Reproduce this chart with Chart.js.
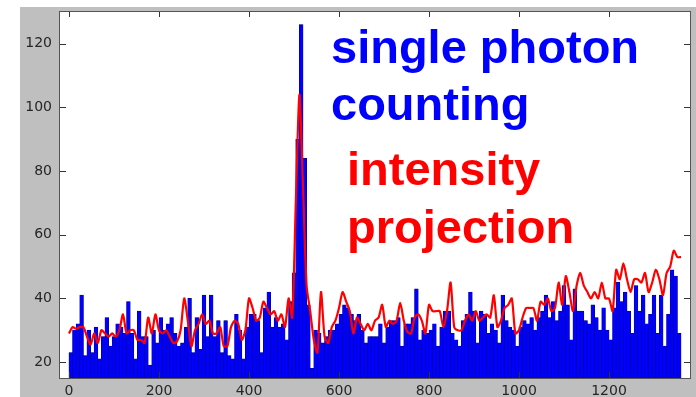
<!DOCTYPE html>
<html><head><meta charset="utf-8">
<script src="https://cdn.jsdelivr.net/npm/chart.js@4/dist/chart.umd.min.js"></script>
<style>html,body{margin:0;padding:0;background:#fff;}canvas{display:block;}</style>
</head><body>
<canvas id="c" width="696" height="397"></canvas>
<script>
// ---- data ----
const binWidth = 8;
const photonCounts = [
  23,30,32,41,22,30,23,31,21,28,34,25,28,32,31,29,39,29,21,36,28,28,19,30,26,
  34,30,32,34,29,25,26,31,
  40,23,34,24,41,28,41,28,33,23,33,22,21,35,30,21,31,35,35,33,23,37,42,31,34,31,32,27,39,
  48,90,126,84,38,18,
  30,29,26,28,30,30,32,35,38,37,35,33,35,30,26,28,28,28,32,26,31,33,33,34,25,32,32,34,43,27,30,29,30,32,
  25,31,36,36,29,27,25,33,35,42,36,26,36,35,29,32,30,26,41,33,31,30,25,31,33,32,34,30,34,36,41,34,39,33,36,
  44,38,27,43,36,36,33,32,38,34,30,37,30,27,37,45,39,42,36,29,44,36,41,32,35,41,29,41,25,35,49,47,29
];
const intensityStep = 8;
const intensityProjection = [
  29,31,30.5,31,31,28,25.5,29,26,30,
  29,28,29,28,30,35,29,30,30,27,
  27,26,34,29,35,30,29,30,28,26,
  26.5,30,40,33,25,30,32,35,32,33,
  29,29,31,25,25,31,33,32,27,30,
  40,37,33,34,39,37,35,36,33,35,
  31,40,34,
  70,104,75,44,
  36,27,23,42,28,26,31,33,37,42,
  39,36,29,34,32,30,32,30,33,34,
  38,31,33,32,33,38.6,33,29.5,29,34,
  35,33,29,38,36,36,
  36,31,36,45,31,30,30,33,35,33,
  36,33,34,35,34,41,31,33,37,38,
  40,29,30,34,37,37,37,33,39,38,
  40,36,37,45,38,
  47,42,36,44,48,44,42,40,42,40,
  45,40,40,36,49,46,51,46,42,46,
  46,45,48,42,45,49,46,41,48,50,
  55,53,53
];
const xTicks = [0,200,400,600,800,1000,1200];
const yTicks = [20,40,60,80,100,120];
const labelLines = ['single photon','counting','intensity','projection'];
const labelColors = ['#0000ff','#0000ff','#ff0000','#ff0000'];

const barData = photonCounts.map((v,i)=>({x:i*binWidth+binWidth/2, y:v}));
const lineData = intensityProjection.map((v,i)=>({x:i*intensityStep, y:v}));

const decor = {
  id:'decor',
  beforeDraw(chart){
    const c = chart.ctx;
    c.save();
    c.fillStyle='#ffffff'; c.fillRect(0,0,chart.width,chart.height);
    c.fillStyle='#bfbfbf'; c.fillRect(20,7,chart.width-20,chart.height-7);
    const a = chart.chartArea;
    c.fillStyle='#ffffff'; c.fillRect(a.left,a.top,a.right-a.left,a.bottom-a.top);
    c.restore();
  },
  afterDraw(chart){
    const c = chart.ctx, a = chart.chartArea;
    const xs = chart.scales.x, ys = chart.scales.y;
    c.save();
    c.strokeStyle='#333'; c.lineWidth=1;
    c.beginPath();
    xs.ticks.forEach(t=>{
      const px = Math.round(xs.getPixelForValue(t.value))+0.5;
      c.moveTo(px,a.bottom); c.lineTo(px,a.bottom-6);
      c.moveTo(px,a.top); c.lineTo(px,a.top+5);
    });
    ys.ticks.forEach(t=>{
      const py = Math.round(ys.getPixelForValue(t.value))+0.5;
      c.moveTo(a.left,py); c.lineTo(a.left+6,py);
      c.moveTo(a.right,py); c.lineTo(a.right-6,py);
    });
    c.stroke();
    c.strokeStyle='#555';
    c.strokeRect(Math.round(a.left)-0.5,Math.round(a.top)-0.5,Math.round(a.right-a.left)+1,Math.round(a.bottom-a.top)+1);
    c.font='bold 47px "Liberation Sans", Arial, sans-serif';
    c.textBaseline='alphabetic';
    const pos = [[331,63],[331,120],[347,185],[347,243]];
    labelLines.forEach((s,i)=>{ c.fillStyle=labelColors[i]; c.fillText(s,pos[i][0],pos[i][1]); });
    c.restore();
  }
};

new Chart(document.getElementById('c'),{
  type:'bar',
  data:{datasets:[
    {type:'line', data:lineData, borderColor:'#ff0000', borderWidth:2.2, pointRadius:0, tension:0.25, order:0, clip:0},
    {type:'bar', data:barData, backgroundColor:'#0000ff', borderColor:'#00006e', borderWidth:0.5,
     inflateAmount:0.4, barPercentage:1, categoryPercentage:1, order:1, clip:0}
  ]},
  options:{
    responsive:false, animation:false, devicePixelRatio:1,
    layout:{padding:{left:0,top:12,right:6,bottom:0}},
    plugins:{legend:{display:false}, tooltip:{enabled:false}},
    scales:{
      x:{type:'linear', min:-20, max:1380, offset:false,
         afterBuildTicks:s=>{s.ticks = xTicks.map(v=>({value:v}));},
         afterFit:s=>{s.height=19; s.paddingLeft=0; s.paddingRight=0;},
         grid:{display:false, drawTicks:false, offset:false}, border:{display:false},
         ticks:{padding:5, color:'#262626', font:{family:'"DejaVu Sans"', size:14}, maxRotation:0, autoSkip:false,
                callback:v=>String(v)}},
      y:{type:'linear', min:15, max:130,
         afterBuildTicks:s=>{s.ticks = yTicks.map(v=>({value:v}));},
         afterFit:s=>{s.width=60; s.paddingTop=0; s.paddingBottom=0;},
         grid:{display:false, drawTicks:false}, border:{display:false},
         ticks:{padding:8, color:'#262626', font:{family:'"DejaVu Sans"', size:14}, callback:v=>String(v)}}
    }
  },
  plugins:[decor]
});
</script>
</body></html>
